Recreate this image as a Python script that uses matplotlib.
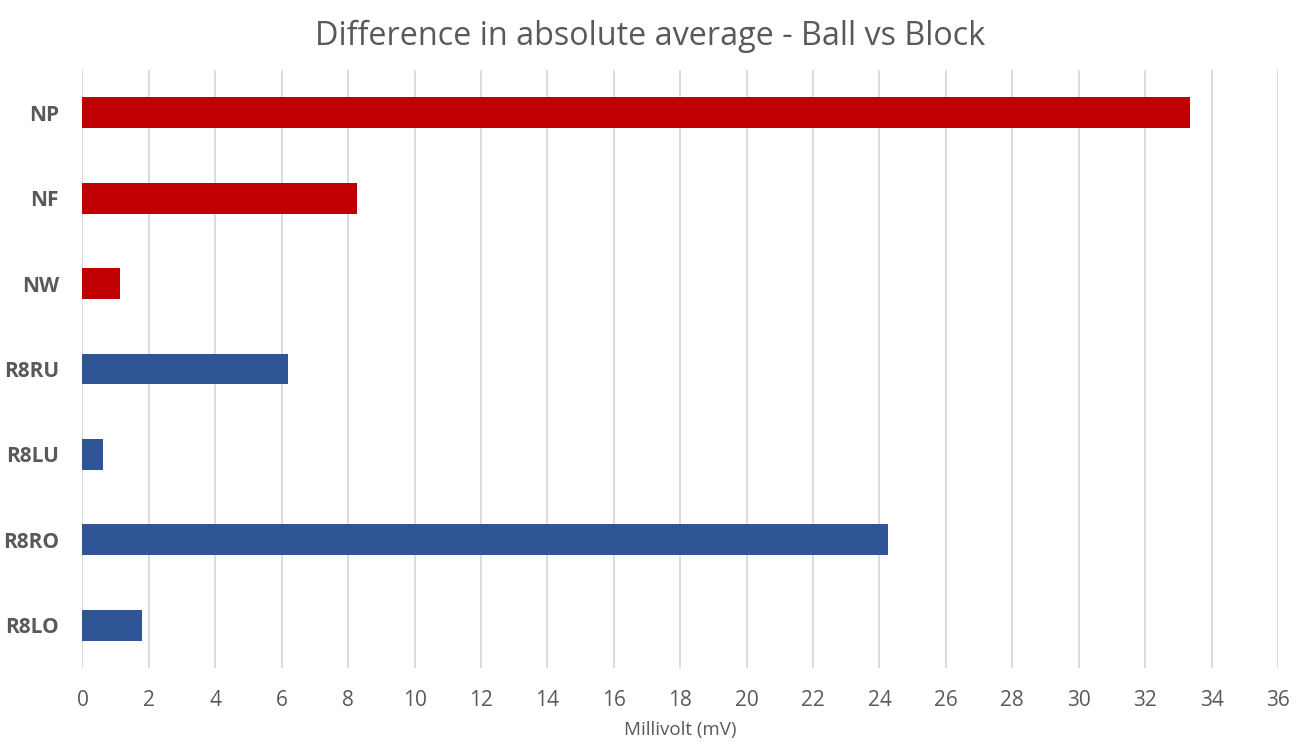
import numpy as np
import matplotlib.pyplot as plt

# data (top to bottom as in the chart)
categorias = ["NP", "NF", "NW", "R8RU", "R8LU", "R8RO", "R8LO"]
valores = [33.36, 8.27, 1.12, 6.19, 0.63, 24.26, 1.79]
colores = ["#C00000", "#C00000", "#C00000", "#2F5597", "#2F5597", "#2F5597", "#2F5597"]
ticks_x = list(range(0, 37, 2))

plt.rcParams['font.family'] = ['Open Sans', 'DejaVu Sans']
gris = "#595959"

fig = plt.figure(figsize=(13.01, 7.45), dpi=100)
ax = fig.add_axes([0.0634, 0.1034, 0.9189, 0.8026])

y = np.arange(len(categorias))
ax.barh(y, valores, height=0.36, color=colores, zorder=3)

ax.set_ylim(len(categorias) - 0.5, -0.5)
ax.set_xlim(0, 36)
ax.set_xticks(ticks_x)
ax.set_yticks(y)
ax.set_yticklabels(categorias, fontsize=15, fontweight='bold', color=gris)
ax.tick_params(axis='x', labelsize=15, labelcolor=gris, length=0, pad=16)
ax.tick_params(axis='y', length=0, pad=17)

ax.grid(axis='x', color="#D9D9D9", linewidth=1.3, zorder=0)
for s in ax.spines.values():
    s.set_visible(False)

ax.set_xlabel("Millivolt (mV)", fontsize=13.5, color=gris, labelpad=7)
fig.suptitle("Difference in absolute average - Ball vs Block", fontsize=23.3, color=gris, y=0.973)

fig.savefig("out.png", dpi=100)
